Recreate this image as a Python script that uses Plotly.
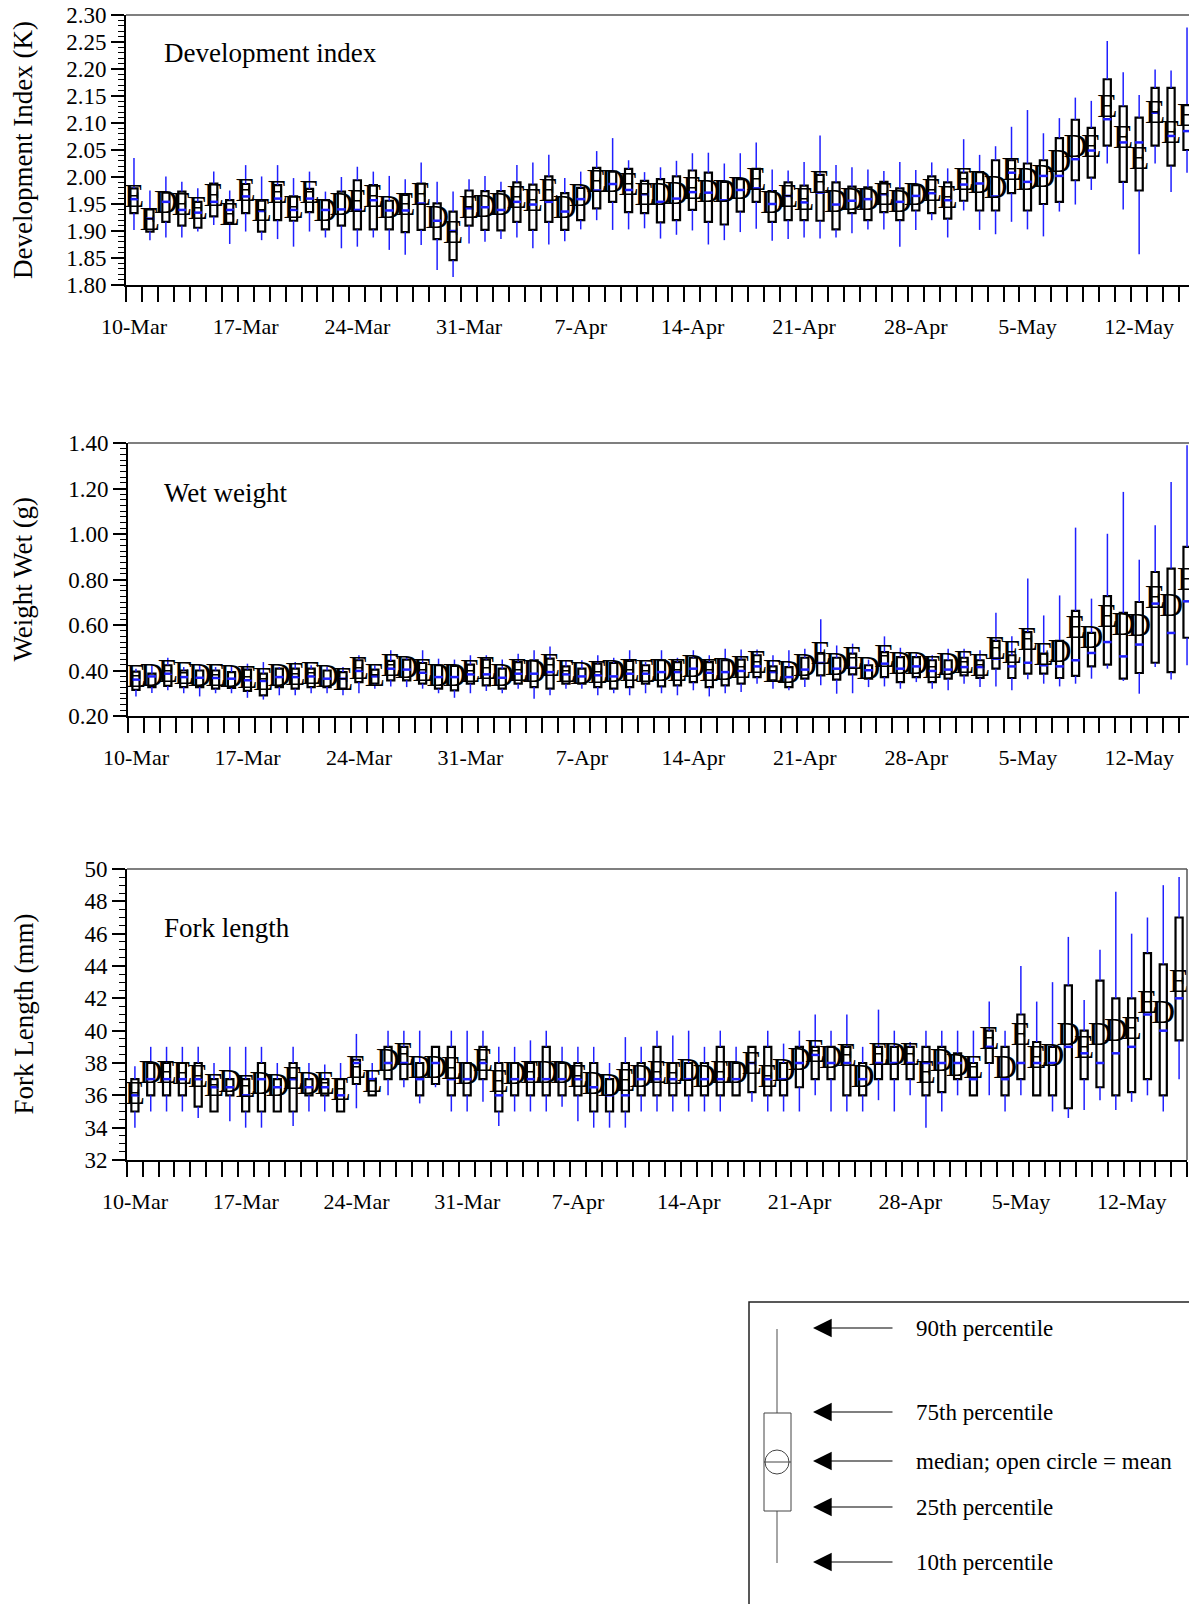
import pandas as pd
import plotly.graph_objects as go

# page is 1197x1604; the html body adds an 8px margin, so the figure is drawn 8px in
W_PAGE, H_PAGE = 1197, 1604
OFF = 8
W, H = W_PAGE - OFF, H_PAGE - OFF

# ---------------- data ----------------
START = "2003-03-10"
N_DAYS = 67
DATES = pd.date_range(START, periods=N_DAYS, freq="D")
TICK_LABELS = ["10-Mar", "17-Mar", "24-Mar", "31-Mar", "7-Apr", "14-Apr",
               "21-Apr", "28-Apr", "5-May", "12-May"]

# Development index (K)
DI_P10 = [1.902, 1.883, 1.888, 1.888, 1.899, 1.911, 1.876, 1.899, 1.883, 1.885, 1.871, 1.899, 1.888, 1.868, 1.871, 1.888, 1.865,
          1.856, 1.874, 1.828, 1.815, 1.877, 1.880, 1.885, 1.888, 1.868, 1.875, 1.881, 1.903, 1.920, 1.902, 1.903, 1.905, 1.886,
          1.893, 1.901, 1.875, 1.883, 1.898, 1.904, 1.882, 1.885, 1.888, 1.886, 1.888, 1.896, 1.903, 1.903, 1.871, 1.902, 1.920,
          1.888, 1.938, 1.902, 1.894, 1.917, 1.903, 1.890, 1.936, 1.949, 1.976, 2.025, 1.940, 1.857, 2.025, 1.972, 2.008]
DI_P25 = [1.933, 1.899, 1.917, 1.910, 1.906, 1.927, 1.915, 1.933, 1.899, 1.920, 1.919, 1.935, 1.903, 1.910, 1.903, 1.903, 1.903,
          1.898, 1.902, 1.885, 1.846, 1.910, 1.902, 1.901, 1.917, 1.902, 1.917, 1.902, 1.920, 1.942, 1.954, 1.935, 1.933, 1.916,
          1.920, 1.939, 1.917, 1.912, 1.936, 1.954, 1.917, 1.920, 1.920, 1.919, 1.903, 1.933, 1.920, 1.935, 1.920, 1.938, 1.933,
          1.923, 1.956, 1.938, 1.938, 1.970, 1.938, 1.950, 1.954, 1.994, 1.999, 2.058, 1.991, 1.975, 2.058, 2.021, 2.050]
DI_MED = [1.959, 1.923, 1.954, 1.939, 1.934, 1.954, 1.939, 1.964, 1.937, 1.960, 1.939, 1.960, 1.939, 1.940, 1.939, 1.957, 1.938,
          1.938, 1.951, 1.919, 1.900, 1.942, 1.944, 1.939, 1.954, 1.949, 1.954, 1.936, 1.959, 1.975, 1.987, 1.976, 1.968, 1.954,
          1.960, 1.972, 1.971, 1.957, 1.976, 1.979, 1.950, 1.965, 1.953, 1.971, 1.949, 1.956, 1.959, 1.968, 1.954, 1.965, 1.970,
          1.957, 1.986, 1.988, 1.964, 2.008, 1.991, 2.002, 2.002, 2.033, 2.049, 2.107, 2.064, 2.064, 2.119, 2.076, 2.085]
DI_P75 = [1.979, 1.940, 1.971, 1.973, 1.954, 1.988, 1.957, 1.987, 1.956, 1.985, 1.964, 1.978, 1.957, 1.973, 1.994, 1.985, 1.956,
          1.967, 1.988, 1.951, 1.936, 1.975, 1.974, 1.974, 1.990, 1.986, 2.001, 1.970, 1.980, 2.017, 2.010, 2.015, 1.993, 1.996,
          2.001, 2.012, 2.008, 1.991, 1.996, 2.015, 1.974, 1.990, 1.984, 2.004, 1.990, 1.982, 1.981, 1.991, 1.979, 1.985, 2.001,
          1.990, 2.008, 2.009, 2.031, 2.031, 2.025, 2.031, 2.072, 2.106, 2.091, 2.181, 2.131, 2.110, 2.165, 2.165, 2.133]
DI_P90 = [2.035, 1.975, 2.001, 1.991, 1.979, 2.010, 1.975, 2.022, 2.001, 2.022, 1.998, 2.010, 1.973, 2.000, 2.019, 2.010, 2.002,
          1.996, 2.027, 1.991, 1.973, 1.996, 2.002, 1.991, 2.022, 2.027, 2.041, 1.998, 2.010, 2.048, 2.072, 2.031, 2.009, 2.018,
          2.030, 2.044, 2.045, 2.025, 2.044, 2.064, 2.014, 2.012, 2.028, 2.077, 2.022, 2.018, 2.014, 2.011, 2.028, 2.013, 2.027,
          2.016, 2.070, 2.041, 2.057, 2.093, 2.124, 2.081, 2.109, 2.147, 2.141, 2.252, 2.194, 2.152, 2.199, 2.197, 2.277]
DI_MEAN = [1.960, 1.918, 1.948, 1.945, 1.938, 1.962, 1.927, 1.970, 1.933, 1.967, 1.939, 1.967, 1.933, 1.945, 1.951, 1.959, 1.940,
           1.945, 1.964, 1.920, 1.893, 1.939, 1.941, 1.945, 1.957, 1.952, 1.970, 1.939, 1.962, 1.988, 1.987, 1.982, 1.963, 1.963,
           1.966, 1.975, 1.969, 1.969, 1.975, 1.991, 1.948, 1.960, 1.955, 1.985, 1.951, 1.955, 1.955, 1.963, 1.951, 1.963, 1.970,
           1.957, 1.991, 1.985, 1.976, 2.010, 1.991, 1.997, 2.025, 2.053, 2.053, 2.127, 2.069, 2.031, 2.115, 2.078, 2.109]
DI_SYM = list("EEDEEEEEEEEEDDEEDEEDEEDDEEEDDEDEEDDEDDDEDEEEDDDEDDEEEDDEDDDDEEEEEEE")

# Wet weight (g)
WW_P10 = [0.286, 0.301, 0.313, 0.300, 0.286, 0.300, 0.300, 0.280, 0.272, 0.291, 0.291, 0.300, 0.300, 0.291, 0.300, 0.320, 0.330,
          0.327, 0.320, 0.300, 0.280, 0.300, 0.310, 0.300, 0.320, 0.276, 0.291, 0.320, 0.320, 0.291, 0.300, 0.291, 0.300, 0.300,
          0.291, 0.313, 0.286, 0.300, 0.305, 0.342, 0.320, 0.313, 0.327, 0.335, 0.298, 0.300, 0.327, 0.330, 0.320, 0.349, 0.320,
          0.313, 0.342, 0.327, 0.330, 0.313, 0.361, 0.342, 0.330, 0.342, 0.364, 0.408, 0.354, 0.298, 0.415, 0.360, 0.423]
WW_P25 = [0.315, 0.327, 0.332, 0.327, 0.327, 0.320, 0.323, 0.310, 0.291, 0.327, 0.320, 0.327, 0.327, 0.320, 0.349, 0.342, 0.357,
          0.357, 0.342, 0.320, 0.313, 0.342, 0.335, 0.320, 0.342, 0.327, 0.320, 0.342, 0.342, 0.327, 0.320, 0.327, 0.342, 0.330,
          0.335, 0.349, 0.327, 0.335, 0.342, 0.371, 0.357, 0.327, 0.364, 0.379, 0.360, 0.383, 0.364, 0.371, 0.349, 0.371, 0.349,
          0.364, 0.379, 0.368, 0.408, 0.367, 0.386, 0.386, 0.367, 0.376, 0.418, 0.426, 0.364, 0.389, 0.434, 0.393, 0.544]
WW_MED = [0.360, 0.374, 0.386, 0.371, 0.368, 0.367, 0.364, 0.357, 0.354, 0.371, 0.371, 0.374, 0.364, 0.364, 0.398, 0.374, 0.408,
          0.404, 0.390, 0.371, 0.371, 0.383, 0.383, 0.368, 0.386, 0.386, 0.393, 0.383, 0.374, 0.379, 0.374, 0.386, 0.386, 0.393,
          0.393, 0.408, 0.390, 0.393, 0.398, 0.418, 0.393, 0.371, 0.404, 0.433, 0.408, 0.412, 0.401, 0.430, 0.408, 0.418, 0.398,
          0.404, 0.415, 0.415, 0.452, 0.418, 0.434, 0.423, 0.418, 0.445, 0.477, 0.525, 0.462, 0.514, 0.694, 0.565, 0.704]
WW_P75 = [0.395, 0.386, 0.423, 0.400, 0.400, 0.400, 0.393, 0.404, 0.386, 0.408, 0.408, 0.408, 0.400, 0.393, 0.445, 0.404, 0.442,
          0.448, 0.433, 0.423, 0.420, 0.426, 0.448, 0.408, 0.437, 0.445, 0.452, 0.418, 0.408, 0.430, 0.433, 0.442, 0.423, 0.445,
          0.437, 0.456, 0.437, 0.445, 0.448, 0.467, 0.418, 0.415, 0.456, 0.474, 0.456, 0.474, 0.423, 0.481, 0.459, 0.459, 0.445,
          0.445, 0.456, 0.445, 0.530, 0.467, 0.569, 0.474, 0.530, 0.662, 0.565, 0.727, 0.653, 0.701, 0.833, 0.848, 0.943]
WW_P90 = [0.408, 0.423, 0.456, 0.415, 0.423, 0.415, 0.423, 0.430, 0.437, 0.415, 0.437, 0.423, 0.415, 0.415, 0.467, 0.423, 0.489,
          0.460, 0.489, 0.452, 0.448, 0.467, 0.467, 0.448, 0.474, 0.489, 0.506, 0.445, 0.445, 0.467, 0.456, 0.489, 0.437, 0.489,
          0.456, 0.489, 0.467, 0.496, 0.492, 0.492, 0.467, 0.489, 0.496, 0.625, 0.510, 0.518, 0.448, 0.550, 0.500, 0.474, 0.467,
          0.496, 0.496, 0.489, 0.654, 0.550, 0.804, 0.642, 0.730, 1.028, 0.716, 1.001, 1.185, 0.887, 1.038, 1.229, 1.390]
WW_MEAN = [0.365, 0.370, 0.386, 0.375, 0.370, 0.370, 0.365, 0.360, 0.350, 0.370, 0.372, 0.375, 0.365, 0.350, 0.400, 0.370, 0.410,
           0.405, 0.390, 0.370, 0.370, 0.385, 0.400, 0.368, 0.390, 0.386, 0.410, 0.385, 0.375, 0.380, 0.385, 0.390, 0.385, 0.390,
           0.390, 0.408, 0.390, 0.395, 0.405, 0.425, 0.385, 0.380, 0.410, 0.467, 0.415, 0.445, 0.400, 0.450, 0.420, 0.420, 0.405,
           0.415, 0.425, 0.410, 0.489, 0.470, 0.525, 0.460, 0.474, 0.580, 0.533, 0.628, 0.594, 0.590, 0.711, 0.676, 0.789]
WW_SYM = list("EDEEDEDEEDEEDEEEEDEDDEEDEDEEDEDEEDEDEDEEEDDEDEDEDDEDEEEEEEDEDEDDEDE")

# Fork length (mm)
FL_P10 = [34, 35, 35, 35, 34.6, 35, 34.4, 34, 34, 35, 34.1, 35, 35, 35, 35.2, 36, 36, 36.5, 35.5, 36.5, 35, 35, 35.6, 34.1, 35,
          35, 35, 35.3, 34.4, 34, 34, 34, 35, 35, 35, 35, 35, 35, 36, 35.6, 35, 35, 35, 36, 35, 35, 35, 35.7, 35, 36, 34, 35, 36,
          36, 36, 35, 36, 36, 35, 34.6, 35.1, 35.7, 35.1, 35.6, 36, 35, 37]
FL_P25 = [35, 36, 36, 36, 35.3, 35, 36, 35, 35, 35, 35, 36, 36, 35, 36.7, 36, 37, 37, 36, 36.7, 36, 36, 37, 35, 36, 36, 36, 36,
          36, 35, 35, 35, 36, 36, 36, 36, 36, 36, 36, 36.2, 36, 36, 36.5, 37, 37, 36, 36, 37, 37, 37, 36, 36.2, 37, 36, 38, 36,
          37, 36, 36, 35.2, 37, 36.5, 36, 36.2, 37, 36, 39.4]
FL_MED = [36, 37, 37, 37, 37, 36.5, 36.5, 36, 37, 36.5, 37, 36.5, 36.5, 36, 38, 37, 38, 38, 37, 38, 37, 37, 38, 36, 37, 37, 37,
          37, 37, 36.5, 36, 36, 37, 37, 37, 37, 37, 37, 37, 38, 37, 37, 38, 38.5, 38, 38, 37, 38, 38, 38, 38, 38, 38, 37, 39, 37,
          38, 38, 38, 39, 38.6, 38, 38.6, 39, 41, 40, 42]
FL_P75 = [37, 38, 38, 38, 38, 37, 37, 37, 38, 37, 38, 37, 37, 37, 38.2, 37, 39, 39, 38, 39, 39, 38, 39, 38, 38, 38, 39, 38, 38,
          38, 37, 38, 38, 39, 38, 38, 38, 39, 38, 39, 39, 38, 39, 39, 39, 39, 38, 39, 39, 39, 39, 39, 38.6, 38, 40, 39, 41, 39.3,
          39, 42.8, 40, 43.1, 42, 42, 44.8, 44.1, 47]
FL_P90 = [37.8, 39, 39, 39, 39, 38, 39, 39, 39, 38, 39, 38, 37.9, 38, 39.8, 38, 40, 40, 40, 39, 40, 40, 40, 39, 39, 39.4, 40, 39,
          39, 39, 38, 39.6, 39, 40, 39.7, 40, 39, 40, 39, 39, 40, 39.2, 40, 41, 40, 41, 39, 41.3, 40, 39.3, 40, 40, 40, 40, 41.8,
          40, 44, 41.8, 43, 45.8, 41.9, 45, 48.6, 46, 47, 49, 49.5]
FL_MEAN = [36.0, 37.3, 37.3, 37.2, 37.0, 36.5, 36.7, 36.4, 36.6, 36.5, 36.9, 36.6, 36.6, 36.2, 37.6, 36.7, 38.0, 38.4, 37.6,
           37.6, 37.5, 37.2, 38.0, 36.7, 37.2, 37.3, 37.3, 37.3, 37.0, 36.6, 36.5, 36.8, 37.0, 37.3, 37.2, 37.4, 37.0, 37.3,
           37.3, 37.8, 37.0, 37.4, 38.1, 38.6, 38.2, 38.3, 37.0, 38.4, 38.4, 38.4, 37.3, 38.0, 37.7, 37.6, 39.4, 37.6, 39.6,
           38.2, 38.3, 39.6, 38.8, 39.6, 39.9, 40.0, 41.6, 41.0, 42.9]
FL_SYM = list("EDEEEEDEDDEDEEEEDEDDEDEEDEDDEDDEDEEDDEDEEDDEDEDEDEEDDEEDEEDDEDDEEDE")

PANELS = [
    dict(title="Development index", ytitle="Development Index (K)", p10=DI_P10, p25=DI_P25, med=DI_MED,
         p75=DI_P75, p90=DI_P90, mean=DI_MEAN, sym=DI_SYM),
    dict(title="Wet weight", ytitle="Weight Wet (g)", p10=WW_P10, p25=WW_P25, med=WW_MED,
         p75=WW_P75, p90=WW_P90, mean=WW_MEAN, sym=WW_SYM),
    dict(title="Fork length", ytitle="Fork Length (mm)", p10=FL_P10, p25=FL_P25, med=FL_MED,
         p75=FL_P75, p90=FL_P90, mean=FL_MEAN, sym=FL_SYM),
]

# ---------------- styling / layout ----------------
FONT = "Liberation Serif, Times New Roman, serif"
BLUE = "#1f1fff"
DAY_MS = 86400000


def PX(x):
    return (x - OFF) / W


def PY(y):
    return 1 - (y - OFF) / H


# plot-area page-pixel boxes (left, right, top, bottom), title offsets and y-axis settings
BOXES = [(126, 1195, 15, 285), (128, 1195, 443, 716), (127, 1187, 869, 1160)]
TITLE_DY = [38, 50, 59]
YSET = [dict(range=[1.80, 2.30], dtick=0.05, tick0=1.80, minor=0.01, fmt=".2f"),
        dict(range=[0.20, 1.40], dtick=0.20, tick0=0.20, minor=0.025, fmt=".2f"),
        dict(range=[32, 50], dtick=2, tick0=32, minor=0.5, fmt="d")]

x_mid = DATES + pd.Timedelta(hours=12)
x_end = DATES[-1] + pd.Timedelta(days=1)
tick_days = pd.date_range(START, x_end, freq="D")
tick_text = [TICK_LABELS[i // 7] if (i % 7 == 0 and i // 7 < len(TICK_LABELS)) else "" for i in range(len(tick_days))]

fig = go.Figure()
layout = dict(width=W, height=H, margin=dict(l=0, r=0, t=0, b=0, autoexpand=False),
              paper_bgcolor="white", plot_bgcolor="white", showlegend=False,
              font=dict(family=FONT, color="black"))
shapes = []
annotations = []

for i, (p, box, ys) in enumerate(zip(PANELS, BOXES, YSET)):
    n = "" if i == 0 else str(i + 1)
    xa, ya = "x" + n, "y" + n
    l, r, t, b = box

    # whiskers (10th-25th and 75th-90th)
    wx, wy = [], []
    for xm, a, q1, q3, c in zip(x_mid, p["p10"], p["p25"], p["p75"], p["p90"]):
        wx += [xm, xm, None, xm, xm, None]
        wy += [a, q1, None, q3, c, None]
    fig.add_trace(go.Scatter(x=wx, y=wy, mode="lines", line=dict(color=BLUE, width=1.5),
                             xaxis=xa, yaxis=ya, hoverinfo="skip"))
    # boxes (25th-75th)
    fig.add_trace(go.Bar(x=x_mid, base=p["p25"], y=[q3 - q1 for q1, q3 in zip(p["p25"], p["p75"])],
                         width=0.45 * DAY_MS, marker=dict(color="white", line=dict(color="black", width=2.2)),
                         xaxis=xa, yaxis=ya))
    # medians
    fig.add_trace(go.Scatter(x=x_mid, y=p["med"], mode="markers",
                             marker=dict(symbol="line-ew", size=6, line=dict(color=BLUE, width=2.5)),
                             xaxis=xa, yaxis=ya))
    # means (glyphs)
    fig.add_trace(go.Scatter(x=x_mid, y=p["mean"], mode="text", text=p["sym"],
                             textposition="middle center",
                             textfont=dict(family=FONT, size=33, color="black"),
                             xaxis=xa, yaxis=ya))

    layout["xaxis" + n] = dict(
        type="date", domain=[PX(l), PX(r)], anchor=ya, range=[DATES[0], x_end],
        tickmode="array", tickvals=list(tick_days), ticktext=tick_text,
        ticks="outside", ticklen=15, tickwidth=1.5, tickcolor="black",
        ticklabelshift=8, ticklabelstandoff=6, automargin=False, ticklabeloverflow="allow",
        showline=True, linecolor="black", linewidth=2,
        showgrid=False, zeroline=False, tickfont=dict(family=FONT, size=22, color="black"))
    layout["yaxis" + n] = dict(
        domain=[PY(b), PY(t)], anchor=xa, range=ys["range"], tickmode="linear",
        tick0=ys["tick0"], dtick=ys["dtick"], tickformat=ys["fmt"], automargin=False,
        ticklabeloverflow="allow",
        ticks="outside", ticklen=13, tickwidth=1.5, tickcolor="black",
        minor=dict(ticks="outside", ticklen=6, tickwidth=1.2, tickcolor="black",
                   dtick=ys["minor"], tick0=ys["tick0"], showgrid=False),
        showline=True, linecolor="black", linewidth=2, showgrid=False, zeroline=False,
        tickfont=dict(family=FONT, size=23, color="black"))

    # top / right frame
    shapes.append(dict(type="line", xref="paper", yref="paper", x0=PX(l), x1=PX(r), y0=PY(t), y1=PY(t),
                       line=dict(color="#555555", width=1.5)))
    shapes.append(dict(type="line", xref="paper", yref="paper", x0=PX(r), x1=PX(r), y0=PY(t), y1=PY(b),
                       line=dict(color="#555555", width=1.5)))

    # panel title & y title
    annotations.append(dict(text=p["title"], xref="paper", yref="paper", x=PX(162),
                            y=PY(t + TITLE_DY[i]), xanchor="left", yanchor="middle", showarrow=False,
                            font=dict(family=FONT, size=27, color="black")))
    annotations.append(dict(text=p["ytitle"], xref="paper", yref="paper", x=PX(23),
                            y=PY((t + b) / 2), xanchor="center", yanchor="middle", showarrow=False,
                            textangle=-90, font=dict(family=FONT, size=27, color="black")))

# ---------------- key box ----------------
shapes.append(dict(type="rect", xref="paper", yref="paper", x0=PX(749), x1=PX(1191), y0=PY(1302), y1=PY(1615),
                   line=dict(color="#222222", width=1.5)))
shapes.append(dict(type="line", xref="paper", yref="paper", x0=PX(777), x1=PX(777), y0=PY(1329), y1=PY(1413),
                   line=dict(color="#888888", width=1.5)))
shapes.append(dict(type="line", xref="paper", yref="paper", x0=PX(777), x1=PX(777), y0=PY(1511), y1=PY(1563),
                   line=dict(color="#888888", width=1.5)))
shapes.append(dict(type="rect", xref="paper", yref="paper", x0=PX(764), x1=PX(791), y0=PY(1511), y1=PY(1413),
                   line=dict(color="#444444", width=1)))
shapes.append(dict(type="circle", xref="paper", yref="paper", x0=PX(765), x1=PX(789), y0=PY(1474), y1=PY(1450),
                   line=dict(color="#444444", width=1)))
shapes.append(dict(type="line", xref="paper", yref="paper", x0=PX(764), x1=PX(791), y0=PY(1462), y1=PY(1462),
                   line=dict(color="#444444", width=1)))

KEY_LABELS = ["90th percentile", "75th percentile", "median; open circle = mean", "25th percentile", "10th percentile"]
KEY_Y = [1328, 1412, 1461, 1507, 1562]
for lab, ky in zip(KEY_LABELS, KEY_Y):
    annotations.append(dict(text="", xref="paper", yref="paper", x=PX(813), y=PY(ky), ax=81, ay=0,
                            showarrow=True, arrowhead=2, arrowsize=3.4, arrowwidth=1.1, arrowcolor="black"))
    annotations.append(dict(text=lab, xref="paper", yref="paper", x=PX(914), y=PY(ky), xanchor="left",
                            yanchor="middle", showarrow=False, font=dict(family=FONT, size=23, color="black")))

layout["shapes"] = shapes
layout["annotations"] = annotations
fig.update_layout(**layout)
fig.write_html("out.html")
